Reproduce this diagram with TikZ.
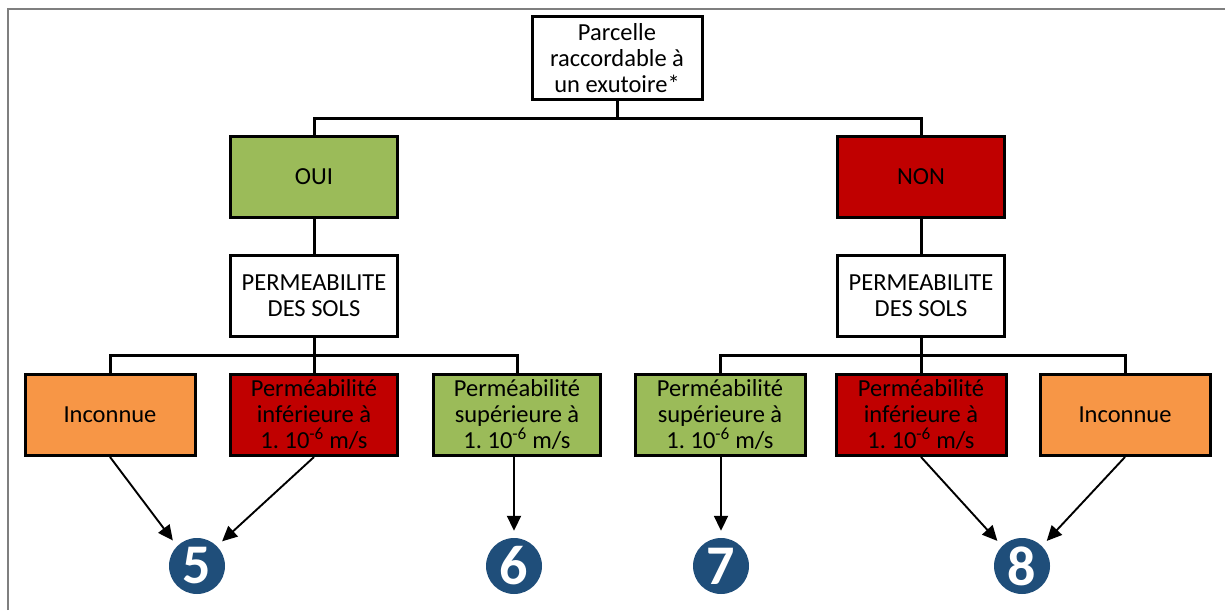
\documentclass[tikz,border=0pt]{standalone}
\usepackage{fontspec}
\setmainfont{Carlito}
\frenchspacing
\usetikzlibrary{arrows.meta}
\definecolor{okgreen}{HTML}{9BBB59}
\definecolor{nored}{HTML}{C00000}
\definecolor{unkorange}{HTML}{F79646}
\definecolor{stepblue}{HTML}{1F4E7A}
\definecolor{framegray}{HTML}{7F7F7F}
\begin{document}
\begin{tikzpicture}[x=1pt,y=-1pt,
  box/.style={draw=black,line width=3pt,inner sep=0pt,align=center,
    minimum width=167pt,minimum height=81pt,font=\fontsize{24.5}{26}\selectfont},
  bigbox/.style={box,minimum width=170pt},
  link/.style={line width=3pt},
  arr/.style={line width=1.9pt,-{Triangle[length=15pt,width=14pt]},shorten >=7pt},
  badge/.style={circle,fill=stepblue,minimum size=56pt,inner sep=0pt,text=white,
    font=\fontsize{56}{56}\selectfont\bfseries}]
\useasboundingbox (0,0) rectangle (1225,610);
% page frame (top and left rules)
\draw[framegray,line width=2pt] (8,610) -- (8,9) -- (1225,9);

% root question
\node[box,minimum width=170pt,minimum height=83pt] (top) at (617,58) {Parcelle\\raccordable à\\un exutoire*};

% yes / no branches
\node[box,fill=okgreen] (oui) at (314,177) {OUI};
\node[box,fill=nored] (non) at (921,177) {NON};
\draw[link] (top.south) -- (top.south |- 0,118) -| (oui.north);
\draw[link] (top.south |- 0,118) -| (non.north);

% soil permeability
\node[box,fill=white] (perm1) at (314,296) {PERMEABILITE\\DES SOLS};
\node[box,fill=white] (perm2) at (921,296) {PERMEABILITE\\DES SOLS};
\draw[link] (oui.south) -- (perm1.north);
\draw[link] (non.south) -- (perm2.north);

% left family
\node[bigbox,fill=unkorange] (inc1) at (110,415) {Inconnue};
\node[box,fill=nored] (inf1) at (314,415) {Perméabilité\\inférieure à\\1. 10\textsuperscript{-6} m/s};
\node[box,fill=okgreen] (sup1) at (517,415) {Perméabilité\\supérieure à\\1. 10\textsuperscript{-6} m/s};
\draw[link] (perm1.south) -- (perm1.south |- 0,355) -| (inc1.north);
\draw[link] (perm1.south |- 0,355) -| (sup1.north);
\draw[link] (perm1.south |- 0,355) -- (inf1.north);

% right family
\node[bigbox,fill=okgreen] (sup2) at (720,415) {Perméabilité\\supérieure à\\1. 10\textsuperscript{-6} m/s};
\node[bigbox,fill=nored] (inf2) at (921,415) {Perméabilité\\inférieure à\\1. 10\textsuperscript{-6} m/s};
\node[bigbox,fill=unkorange] (inc2) at (1125,415) {Inconnue};
\draw[link] (perm2.south) -- (perm2.south |- 0,355) -| (sup2.north);
\draw[link] (perm2.south |- 0,355) -| (inc2.north);
\draw[link] (perm2.south |- 0,355) -- (inf2.north);

% outcome badges
\node[badge] (c5) at (197,566) {5};
\node[badge] (c6) at (514,566) {6};
\node[badge] (c7) at (721,566) {7};
\node[badge] (c8) at (1022,566) {8};

\draw[arr] (inc1.south) -- (c5.135);
\draw[arr] (inf1.south) -- (c5.45);
\draw[arr] (c6.north |- sup1.south) -- (c6.north);
\draw[arr] (c7.north |- sup2.south) -- (c7.north);
\draw[arr] (inf2.south) -- (c8.135);
\draw[arr] (inc2.south) -- (c8.45);
\end{tikzpicture}
\end{document}
